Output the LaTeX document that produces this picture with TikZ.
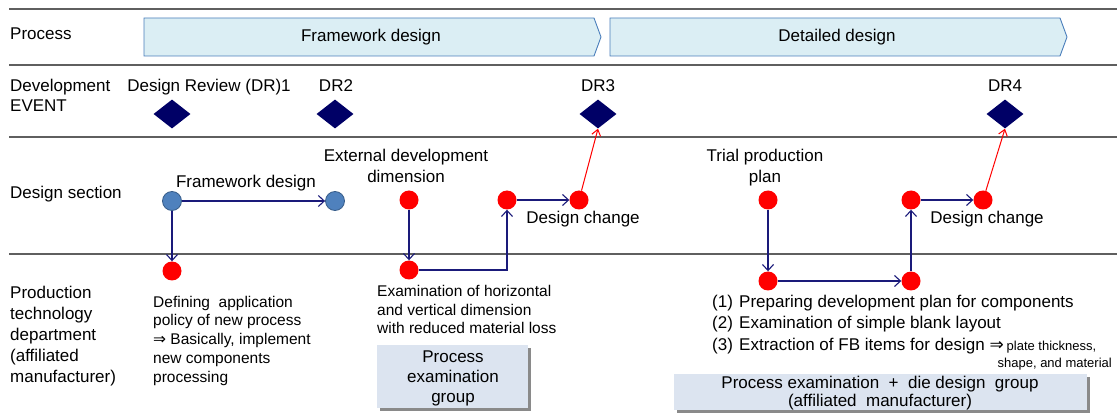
\documentclass[tikz,border=0pt]{standalone}
\usepackage{fontspec}
\setmainfont{Liberation Sans}
\newfontfamily\symfont{DejaVu Sans}
\usetikzlibrary{shapes.geometric,arrows.meta}
\definecolor{sepgray}{HTML}{5F5F5F}
\definecolor{chevfill}{HTML}{DBEEF4}
\definecolor{chevdraw}{HTML}{4A7EBB}
\definecolor{navyd}{HTML}{000066}
\definecolor{arrnavy}{HTML}{1A1A7A}
\definecolor{dotblue}{HTML}{4F81BD}
\definecolor{dotborder}{HTML}{385D8A}
\definecolor{boxfill}{HTML}{DCE4F0}
\definecolor{shadowgray}{HTML}{8A8A8A}
\tikzset{
  sepline/.style={draw=sepgray, line width=2pt},
  chev/.style={fill=chevfill, draw=chevdraw, line width=0.9pt},
  big/.style={font=\fontsize{17}{21}\selectfont, inner sep=0pt},
  mid/.style={font=\fontsize{15.5}{18.7}\selectfont, inner sep=0pt},
  rdot/.style={circle, fill=red, minimum size=19pt, inner sep=0pt},
  bdot/.style={circle, fill=dotblue, draw=dotborder, line width=0.8pt, minimum size=19pt, inner sep=0pt},
  dia/.style={diamond, fill=navyd, minimum width=37pt, minimum height=29pt, inner sep=0pt},
  arr/.style={draw=arrnavy, line width=1.1pt, -{Straight Barb[length=6pt,width=11pt]}},
  rarr/.style={draw=red, line width=1pt, -{Straight Barb[length=6pt,width=9pt]}},
  grpbox/.style={fill=boxfill, draw=none},
  shadow/.style={fill=shadowgray, draw=none}
}
\begin{document}
\begin{tikzpicture}[x=1pt,y=-1pt]
\useasboundingbox (0,0) rectangle (1120,414);
% separator lines
\draw[sepline] (9,9) -- (1117,9);
\draw[sepline] (9,65) -- (1117,65);
\draw[sepline] (9,137) -- (1117,137);
\draw[sepline] (9,254) -- (1117,254);
% row labels (multi-line nodes: base anchor = last line's baseline)
\node[big, anchor=base west] (lproc) at (10,40) {Process};
\node[big, anchor=base west, align=left, font=\fontsize{17}{20}\selectfont] (levent) at (10,112) {Development\\EVENT};
\node[big, anchor=base west] (ldes) at (10,199) {Design section};
\node[big, anchor=base west, align=left] (lprod) at (10,382) {Production\\technology\\department\\(affiliated\\manufacturer)};
% process chevrons
\draw[chev] (144,18) -- (594,18) -- (601,37) -- (594,56) -- (144,56) -- cycle;
\draw[chev] (610,18) -- (1060,18) -- (1067,37) -- (1060,56) -- (610,56) -- cycle;
\node[big, anchor=base] (pfw) at (371,42) {Framework design};
\node[big, anchor=base] (pdd) at (837,42) {Detailed design};
% events
\node[big, anchor=base] (tdr1) at (209,92) {Design Review (DR)1};
\node[big, anchor=base] (tdr2) at (336,92) {DR2};
\node[big, anchor=base] (tdr3) at (598,92) {DR3};
\node[big, anchor=base] (tdr4) at (1005,92) {DR4};
\node[dia] (dr1) at (172,114) {};
\node[dia] (dr2) at (335,114) {};
\node[dia] (dr3) at (598,114) {};
\node[dia] (dr4) at (1005,114) {};
% design section
\node[bdot] (b1) at (172,201) {};
\node[bdot] (b2) at (335,201) {};
\node[big, anchor=base] (tfw) at (246,188) {Framework design};
\node[rdot] (rA) at (409,200) {};
\node[rdot] (rC) at (507,200) {};
\node[rdot] (rCh) at (579,200) {};
\node[big, anchor=base, align=center] (text) at (406,183) {External development\\dimension};
\node[big, anchor=base] (tdc1) at (583,224) {Design change};
\node[rdot] (rT) at (768,200) {};
\node[rdot] (rF) at (911,200) {};
\node[rdot] (rG) at (983,200) {};
\node[big, anchor=base, align=center] (ttrial) at (765,183) {Trial production\\plan};
\node[big, anchor=base] (tdc2) at (987,224) {Design change};
% production row
\node[rdot] (r1) at (172,271) {};
\node[rdot] (rB) at (409,270) {};
\node[rdot] (rD) at (768,281) {};
\node[rdot] (rE) at (911,281) {};
\node[mid, anchor=base west, align=left] (tdef) at (153,382) {Defining\ \ application\\policy of new process\\{\symfont ⇒} Basically, implement\\new components\\processing};
\node[mid, anchor=base west, align=left] (texam) at (377,334) {Examination of horizontal\\and vertical dimension\\with reduced material loss};
% group boxes
\fill[shadow] (380,348) rectangle (531,411);
\node[grpbox, minimum width=151pt, minimum height=63pt, inner sep=0pt] (g1) at (452.5,376.5) {};
\node[big, align=center, font=\fontsize{17}{20}\selectfont, anchor=base] (tg1) at (453,402) {Process\\examination\\group};
\fill[shadow] (677,377) rectangle (1090,413);
\node[grpbox, minimum width=413pt, minimum height=36pt, inner sep=0pt] (g2) at (880.5,392) {};
\node[big, align=center, font=\fontsize{17}{17.5}\selectfont, anchor=base] (tg2) at (880,406) {Process examination\ \ +\ \ die design\ \ group\\(affiliated\ \ manufacturer)};
% numbered list
\node[big, anchor=base west] (n1) at (712,308) {(1)};
\node[big, anchor=base west] (i1) at (739,308) {Preparing development plan for components};
\node[big, anchor=base west] (n2) at (712,329) {(2)};
\node[big, anchor=base west] (i2) at (739,329) {Examination of simple blank layout};
\node[big, anchor=base west] (n3) at (712,351) {(3)};
\node[big, anchor=base west] (i3) at (739,351) {Extraction of FB items for design {\symfont ⇒}\,{\fontsize{13}{15}\selectfont plate thickness,}};
\node[inner sep=0pt, anchor=base east, font=\fontsize{13}{15}\selectfont] (i3b) at (1112,367) {shape, and material};
% connectors
\draw[arr] (b1) -- (b2);
\draw[arr] (b1) -- (r1);
\draw[arr] (rA) -- (rB);
\draw[arr] (rB.east) -| (rC.south);
\draw[arr] (rC) -- (rCh);
\draw[rarr] (rCh) -- (dr3.south);
\draw[arr] (rT) -- (rD);
\draw[arr] (rD) -- (rE);
\draw[arr] (rE) -- (rF);
\draw[arr] (rF) -- (rG);
\draw[rarr] (rG) -- (dr4.south);
\end{tikzpicture}
\end{document}
